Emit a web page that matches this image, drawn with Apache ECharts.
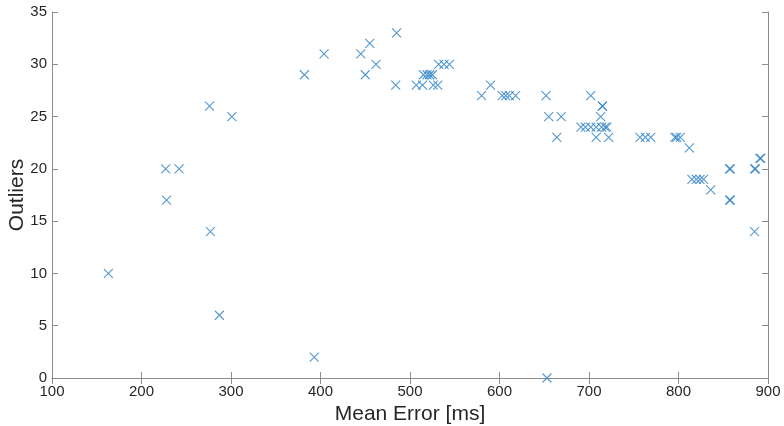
<!DOCTYPE html>
<html>
<head>
<meta charset="utf-8">
<script src="https://cdn.jsdelivr.net/npm/echarts@6/dist/echarts.min.js"></script>
<style>
  html, body { margin: 0; padding: 0; background: #fff; }
  #chart { width: 784px; height: 426px; }
</style>
</head>
<body>
<div id="chart"></div>
<script>
  // mean error [ms] vs outliers
  var meanError = [
    163, 227, 228, 242, 276, 277, 287, 301,
    382, 393, 404, 445, 450, 455, 462, 485, 484,
    507, 514, 515, 519, 522, 525, 526, 531, 532, 538, 544,
    580, 590, 603, 607, 611, 618,
    652, 655, 653, 664, 669,
    691, 696, 702, 702, 708, 708, 713, 714, 715, 715, 718, 720, 722,
    757, 763, 769, 796, 798, 802, 812,
    815, 820, 824, 828, 836, 857, 858, 857, 858, 885, 886, 885, 891, 892
  ];
  var outliers = [
    10, 20, 17, 20, 26, 14, 6, 25,
    29, 2, 31, 31, 29, 32, 30, 33, 28,
    28, 28, 29, 29, 29, 29, 28, 28, 30, 30, 30,
    27, 28, 27, 27, 27, 27,
    27, 25, 0, 23, 25,
    24, 24, 27, 24, 24, 23, 25, 24, 26, 26, 24, 24, 23,
    23, 23, 23, 23, 23, 23, 22,
    19, 19, 19, 19, 18, 20, 20, 17, 17, 20, 20, 14, 21, 21
  ];
  var xTicks = [100, 200, 300, 400, 500, 600, 700, 800, 900];
  var yTicks = [0, 5, 10, 15, 20, 25, 30, 35];

  var points = meanError.map(function (x, i) { return [x, outliers[i]]; });

  var axisGray = '#8c8c8c';
  var textDark = '#262626';
  var font = 'Liberation Sans, Arial, Helvetica, sans-serif';

  var chart = echarts.init(document.getElementById('chart'));
  chart.setOption({
    animation: false,
    backgroundColor: '#ffffff',
    grid: {
      left: 52, right: 16, top: 12, bottom: 48,
      containLabel: false,
      outerBoundsMode: 'none'
    },
    xAxis: [
      {
        type: 'value',
        min: xTicks[0],
        max: xTicks[xTicks.length - 1],
        interval: 100,
        name: 'Mean Error [ms]',
        nameLocation: 'middle',
        nameGap: 24,
        nameTextStyle: { color: textDark, fontSize: 21, fontFamily: font },
        axisLine: { lineStyle: { color: axisGray, width: 1 } },
        axisTick: { inside: true, length: 6, lineStyle: { color: axisGray } },
        axisLabel: { color: textDark, fontSize: 15, fontFamily: font, margin: 6 },
        splitLine: { show: false }
      },
      {
        type: 'value',
        position: 'top',
        min: xTicks[0],
        max: xTicks[xTicks.length - 1],
        interval: 100,
        axisLine: { show: true, lineStyle: { color: axisGray, width: 1 } },
        axisTick: { inside: true, length: 6, lineStyle: { color: axisGray } },
        axisLabel: { show: false },
        splitLine: { show: false }
      }
    ],
    yAxis: [
      {
        type: 'value',
        min: yTicks[0],
        max: yTicks[yTicks.length - 1],
        interval: 5,
        name: 'Outliers',
        nameLocation: 'middle',
        nameGap: 24,
        nameMoveOverlap: false,
        nameTextStyle: { color: textDark, fontSize: 21, fontFamily: font },
        axisLine: { show: true, lineStyle: { color: axisGray, width: 1 } },
        axisTick: { show: true, inside: true, length: 6, lineStyle: { color: axisGray } },
        axisLabel: { color: textDark, fontSize: 15, fontFamily: font, margin: 5 },
        splitLine: { show: false }
      },
      {
        type: 'value',
        position: 'right',
        min: yTicks[0],
        max: yTicks[yTicks.length - 1],
        interval: 5,
        axisLine: { show: true, lineStyle: { color: axisGray, width: 1 } },
        axisTick: { show: true, inside: true, length: 6, lineStyle: { color: axisGray } },
        axisLabel: { show: false },
        splitLine: { show: false }
      }
    ],
    series: [
      {
        type: 'scatter',
        data: points,
        symbol: 'path://M0,0L10,10M10,0L0,10',
        symbolSize: 9,
        itemStyle: {
          color: 'transparent',
          borderColor: '#2a7fc6',
          borderWidth: 1.1
        }
      }
    ]
  });
</script>
</body>
</html>
